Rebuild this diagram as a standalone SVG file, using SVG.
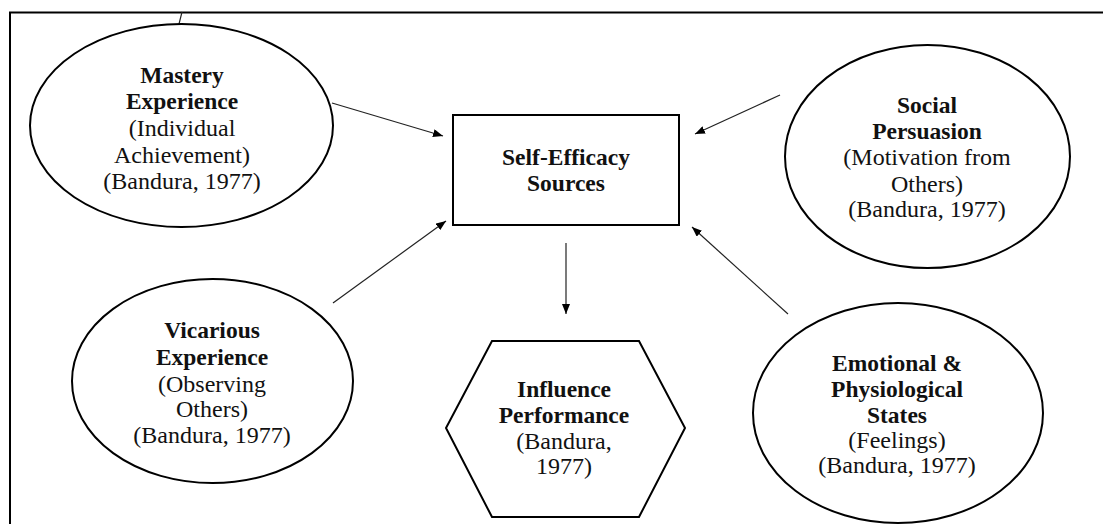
<svg xmlns="http://www.w3.org/2000/svg" width="1103" height="524" viewBox="0 0 1103 524">
<style>
.shape{fill:#fff;stroke:#000;stroke-width:2}
.t{font-family:'Liberation Serif','Times New Roman',serif;font-size:24px;fill:#111;text-anchor:middle}
.b{font-weight:bold;font-size:23.5px}
.conn{stroke:#222;stroke-width:1.2;fill:none}
</style>
<defs>
<marker id="ah" markerWidth="10" markerHeight="8" refX="10" refY="4" orient="auto" markerUnits="userSpaceOnUse">
<path d="M0,0 L10,4 L0,8 Z" fill="#000"/>
</marker>
</defs>
<rect width="1103" height="524" fill="#fff"/>
<g id="frame">
<path d="M10,524 L10,12.5 L1103,12.5" fill="none" stroke="#000" stroke-width="2"/>
<line x1="182" y1="12" x2="179" y2="24" stroke="#222" stroke-width="1.2"/>
</g>
<g id="connectors">
<line class="conn" x1="332" y1="103" x2="443" y2="136" marker-end="url(#ah)"/>
<line class="conn" x1="780" y1="95" x2="695" y2="134" marker-end="url(#ah)"/>
<line class="conn" x1="333" y1="303" x2="446" y2="221" marker-end="url(#ah)"/>
<line class="conn" x1="788" y1="314" x2="692" y2="227" marker-end="url(#ah)"/>
<line class="conn" x1="566" y1="243" x2="566" y2="314" marker-end="url(#ah)"/>
</g>
<g id="mastery">
<ellipse class="shape" cx="181.5" cy="125.5" rx="151.5" ry="101.5"/>
<text class="t b" x="182" y="83">Mastery</text>
<text class="t b" x="182" y="109">Experience</text>
<text class="t" x="182" y="136">(Individual</text>
<text class="t" x="182" y="163">Achievement)</text>
<text class="t" x="182" y="189">(Bandura, 1977)</text>
</g>
<g id="self-efficacy">
<rect class="shape" x="453" y="115" width="226" height="110"/>
<text class="t b" x="566" y="165">Self-Efficacy</text>
<text class="t b" x="566" y="191">Sources</text>
</g>
<g id="social">
<ellipse class="shape" cx="927.5" cy="156.5" rx="142.5" ry="111.5"/>
<text class="t b" x="927" y="113">Social</text>
<text class="t b" x="927" y="139">Persuasion</text>
<text class="t" x="927" y="165">(Motivation from</text>
<text class="t" x="927" y="192">Others)</text>
<text class="t" x="927" y="217">(Bandura, 1977)</text>
</g>
<g id="vicarious">
<ellipse class="shape" cx="212.5" cy="381" rx="140.5" ry="102"/>
<text class="t b" x="212" y="338">Vicarious</text>
<text class="t b" x="212" y="365">Experience</text>
<text class="t" x="212" y="392">(Observing</text>
<text class="t" x="212" y="417">Others)</text>
<text class="t" x="212" y="443">(Bandura, 1977)</text>
</g>
<g id="influence">
<polygon class="shape" points="492,341 639,341 685,428 639,517 492,517 446,428"/>
<text class="t b" x="564" y="397">Influence</text>
<text class="t b" x="564" y="423">Performance</text>
<text class="t" x="564" y="449">(Bandura,</text>
<text class="t" x="564" y="474">1977)</text>
</g>
<g id="emotional">
<ellipse class="shape" cx="898" cy="413" rx="145" ry="110"/>
<text class="t b" x="897" y="371">Emotional &amp;</text>
<text class="t b" x="897" y="397">Physiological</text>
<text class="t b" x="897" y="423">States</text>
<text class="t" x="897" y="448">(Feelings)</text>
<text class="t" x="897" y="473">(Bandura, 1977)</text>
</g>
</svg>
